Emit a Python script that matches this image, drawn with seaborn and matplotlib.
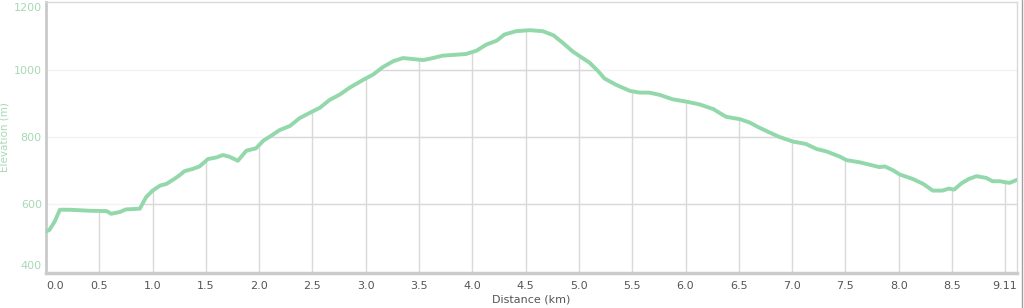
import matplotlib
matplotlib.use("Agg")
import matplotlib.pyplot as plt
from matplotlib.patches import Polygon
from matplotlib.lines import Line2D
import seaborn as sns
import pandas as pd
import numpy as np

distance_km = [0.00, 0.03, 0.08, 0.13, 0.22, 0.41, 0.57, 0.61, 0.69, 0.75, 0.88, 0.94,
               1.00, 1.07, 1.13, 1.19, 1.25, 1.30, 1.38, 1.44, 1.52, 1.60, 1.66, 1.72,
               1.80, 1.88, 1.97, 2.04, 2.11, 2.19, 2.29, 2.38, 2.47, 2.57, 2.66, 2.76,
               2.85, 2.97, 3.07, 3.16, 3.26, 3.35, 3.44, 3.54, 3.63, 3.72, 3.85, 3.94,
               4.04, 4.13, 4.23, 4.30, 4.41, 4.54, 4.66, 4.76, 4.85, 4.94, 5.01, 5.10,
               5.18, 5.24, 5.35, 5.48, 5.57, 5.66, 5.76, 5.88, 6.01, 6.13, 6.26, 6.38,
               6.45, 6.51, 6.60, 6.69, 6.79, 6.88, 7.01, 7.13, 7.23, 7.32, 7.45, 7.51,
               7.64, 7.73, 7.82, 7.87, 7.95, 8.01, 8.13, 8.23, 8.32, 8.41, 8.47, 8.52,
               8.59, 8.66, 8.73, 8.82, 8.88, 8.95, 9.00, 9.04, 9.11]
elevation_m = [520, 523, 548, 584, 584, 581, 580, 572, 577, 585, 587, 622,
               641, 656, 661, 673, 686, 699, 706, 713, 735, 740, 747, 742,
               730, 760, 767, 790, 804, 821, 834, 857, 872, 888, 911, 928,
               948, 970, 987, 1009, 1027, 1036, 1033, 1030, 1036, 1043, 1046, 1048,
               1058, 1076, 1088, 1106, 1116, 1119, 1116, 1104, 1081, 1056, 1041, 1022,
               997, 975, 956, 938, 933, 933, 926, 913, 906, 898, 884, 861,
               857, 854, 844, 829, 814, 801, 787, 780, 765, 758, 742, 732,
               725, 718, 711, 713, 701, 689, 676, 661, 641, 641, 647, 644,
               663, 676, 684, 679, 669, 669, 666, 664, 673]

x_grid_km = [0.5, 1.0, 1.5, 2.0, 2.5, 3.0, 3.5, 4.0, 4.5, 5.0, 5.5, 6.0, 6.5,
             7.0, 7.5, 8.0, 8.5, 9.0]
x_tick_vals = [0.0, 0.5, 1.0, 1.5, 2.0, 2.5, 3.0, 3.5, 4.0, 4.5, 5.0, 5.5, 6.0,
               6.5, 7.0, 7.5, 8.0, 8.5, 9.11]
x_tick_labels = ["0.0", "0.5", "1.0", "1.5", "2.0", "2.5", "3.0", "3.5", "4.0",
                 "4.5", "5.0", "5.5", "6.0", "6.5", "7.0", "7.5", "8.0", "8.5", "9.11"]
y_tick_vals = [400, 600, 800, 1000, 1200]
y_grid_vals = [600, 800, 1000]

line_color = "#92d8aa"
label_green = "#a6d9b6"
text_gray = "#555555"

sns.set_style("white")
plt.rcParams['font.family'] = ['DejaVu Sans']

df = pd.DataFrame({"distance": distance_km, "elevation": elevation_m})

fig = plt.figure(figsize=(10.24, 3.08), dpi=100)
ax = fig.add_axes([46 / 1024, 1 - 272.5 / 308, (1017 - 46) / 1024, (272.5 - 2) / 308])

xmax = distance_km[-1]
ax.set_xlim(0, xmax)
ax.set_ylim(397, 1203)

# clip region: area under the profile
verts = [(0, 397)] + list(zip(distance_km, elevation_m)) + [(xmax, 397)]
under = Polygon(verts, closed=True, transform=ax.transData, fc="none", ec="none")
ax.add_patch(under)

# faint gridlines everywhere
for yv in y_grid_vals:
    ax.axhline(yv, color="#f3f3f3", lw=1, zorder=1)
# darker gridlines under the curve
for yv in y_grid_vals:
    ln = ax.axhline(yv, color="#d9d9d9", lw=1, zorder=2)
    ln.set_clip_path(under)
for xv in x_grid_km:
    ln = ax.axvline(xv, color="#d9d9d9", lw=1, zorder=2)
    ln.set_clip_path(under)

sns.lineplot(data=df, x="distance", y="elevation", ax=ax, color=line_color,
             lw=2.8, zorder=3, solid_joinstyle="round", solid_capstyle="round")

ax.set_xticks(x_tick_vals)
ax.set_xticklabels(x_tick_labels)
ax.set_yticks(y_tick_vals)
ax.set_yticklabels([str(v) for v in y_tick_vals])
ax.tick_params(axis="x", length=0, pad=6, labelsize=8, labelcolor=text_gray)
ax.tick_params(axis="y", length=0, pad=3, labelsize=8, labelcolor=label_green)
xt = ax.get_xticklabels()
xt[0].set_ha("left")
xt[-1].set_ha("right")
yt = ax.get_yticklabels()
yt[0].set_va("bottom")
yt[-1].set_va("top")

ax.set_xlabel("Distance (km)", fontsize=8, color=text_gray, labelpad=3)
ax.set_ylabel("Elevation (m)", fontsize=7.5, color=label_green)
ax.yaxis.set_label_coords((10 - 46) / 971, 0.5)

for side in ["left", "bottom"]:
    ax.spines[side].set_color("#cacaca")
ax.spines["left"].set_linewidth(2)
ax.spines["bottom"].set_linewidth(2.5)
for side in ["top", "right"]:
    ax.spines[side].set_color("#d9d9d9")
    ax.spines[side].set_linewidth(1)

fig.add_artist(Line2D([1021.5 / 1024, 1021.5 / 1024], [0, 1], color="#a0a0a0", lw=1))

fig.savefig("out.png", dpi=100)
